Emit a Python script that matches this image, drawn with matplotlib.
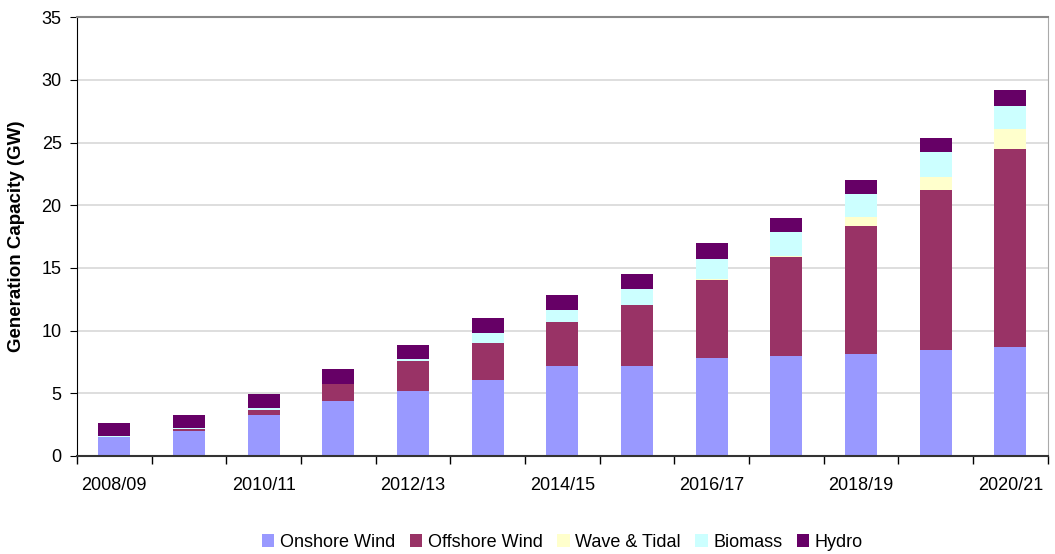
import numpy as np
import matplotlib
matplotlib.use('Agg')
import matplotlib.pyplot as plt

plt.rcParams['font.family'] = ['Liberation Sans', 'DejaVu Sans']

years = ['2008/09', '2009/10', '2010/11', '2011/12', '2012/13', '2013/14', '2014/15',
         '2015/16', '2016/17', '2017/18', '2018/19', '2019/20', '2020/21']
onshore = [1.5, 2.0, 3.27, 4.39, 5.18, 6.06, 7.18, 7.18, 7.81, 7.97, 8.13, 8.45, 8.69]
offshore = [0.0, 0.15, 0.43, 1.35, 2.4, 2.95, 3.51, 4.86, 6.22, 7.9, 10.24, 12.75, 15.81]
wave = [0.0, 0.0, 0.0, 0.0, 0.0, 0.0, 0.0, 0.0, 0.05, 0.1, 0.73, 1.05, 1.58]
biomass = [0.1, 0.1, 0.13, 0.0, 0.16, 0.8, 0.95, 1.26, 1.6, 1.93, 1.8, 2.0, 1.82]
hydro = [1.05, 1.0, 1.1, 1.2, 1.1, 1.2, 1.2, 1.2, 1.3, 1.1, 1.1, 1.11, 1.29]

series = [('Onshore Wind', onshore, '#9999FF'),
          ('Offshore Wind', offshore, '#993366'),
          ('Wave & Tidal', wave, '#FFFFCC'),
          ('Biomass', biomass, '#CCFFFF'),
          ('Hydro', hydro, '#660066')]

fig = plt.figure(figsize=(10.55, 5.54), dpi=100)
ax = fig.add_axes([0.073, 0.177, 0.920, 0.792])

x = np.arange(len(years))
bottom = np.zeros(len(years))
for name, vals, col in series:
    ax.bar(x, vals, 0.43, bottom=bottom, color=col, label=name, zorder=2)
    bottom += np.array(vals)

ax.set_xlim(-0.5, len(years) - 0.5)
ax.set_ylim(0, 35)
ax.set_yticks(np.arange(0, 36, 5))
ax.yaxis.grid(True, color='#d8d8d8', linewidth=1.2, zorder=0)

ax.set_xticks(x[::2])
ax.set_xticklabels(years[::2])
ax.tick_params(axis='x', which='major', length=0, pad=15)
ax.set_xticks(np.arange(-0.5, len(years), 1), minor=True)
ax.tick_params(axis='x', which='minor', length=6, width=1, direction='out')
ax.tick_params(axis='y', length=5, direction='out', pad=6)
ax.tick_params(labelsize=13)

ax.spines['left'].set_color('black')
ax.spines['bottom'].set_color('#333333')
ax.spines['bottom'].set_linewidth(1.5)
ax.spines['top'].set_color('#888888')
ax.spines['top'].set_linewidth(1.5)
ax.spines['right'].set_color('#aaaaaa')

ax.set_ylabel('Generation Capacity (GW)', fontsize=13.5, fontweight='bold', labelpad=12)

ax.legend(loc='upper center', bbox_to_anchor=(0.5, -0.14), ncol=5, frameon=False,
          fontsize=13, handlelength=0.7, handleheight=0.7, handletextpad=0.3,
          columnspacing=0.8)

plt.savefig('out.png', dpi=100)
